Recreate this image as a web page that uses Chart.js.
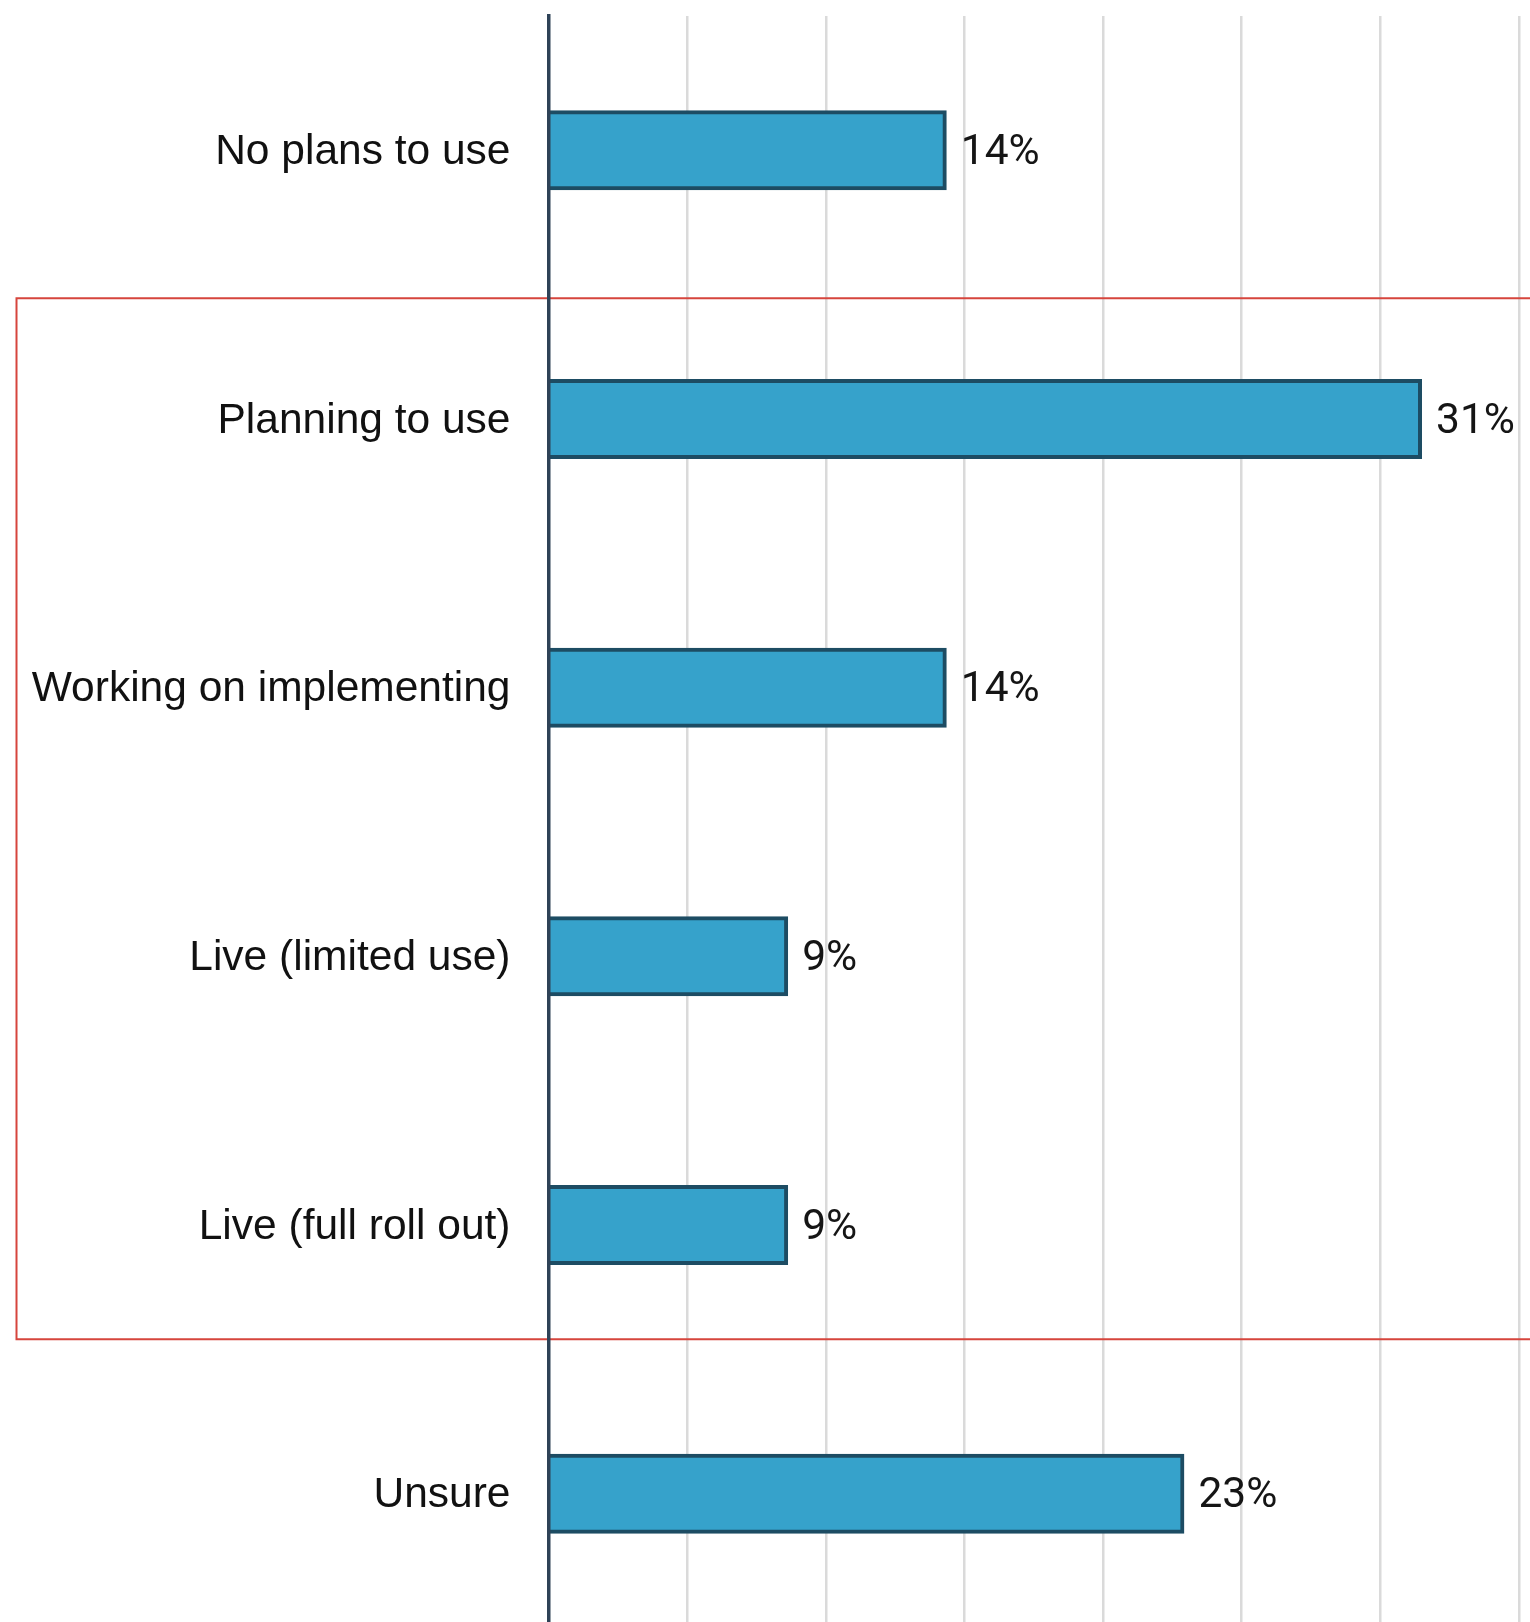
<!DOCTYPE html>
<html>
<head>
<meta charset="utf-8">
<script src="https://cdn.jsdelivr.net/npm/chart.js@4.4.1/dist/chart.umd.min.js"></script>
<style>
  html, body { margin: 0; padding: 0; background: #ffffff; overflow: hidden; }
  #wrap { position: absolute; left: 0; top: 0; width: 1530px; height: 1628px; }
</style>
</head>
<body>
<div id="wrap"><canvas id="chart"></canvas></div>
<script>
// Adoption stage of respondents (share of 35 answers, in percent)
const categories = [
  'No plans to use',
  'Planning to use',
  'Working on implementing',
  'Live (limited use)',
  'Live (full roll out)',
  'Unsure'
];
const shares = [14.29, 31.43, 14.29, 8.57, 8.57, 22.86];
const axisMax = 35;
const gridStep = 5;
// Rows grouped by the red frame (fractional category positions of its top and bottom edges)
const frameSpan = [0.551, 4.425];

const labelFont = { family: "'Liberation Sans', Arial, sans-serif", size: 42.5 };
const valueFont = "42.5px Roboto, 'Liberation Sans', sans-serif";

const frameBox = {
  id: 'frameBox',
  beforeDatasetsDraw(chart) {
    const { ctx, scales: { y } } = chart;
    const top = y.getPixelForValue(frameSpan[0]);
    const bottom = y.getPixelForValue(frameSpan[1]);
    ctx.save();
    ctx.strokeStyle = '#d6453d';
    ctx.lineWidth = 2;
    ctx.beginPath();
    ctx.moveTo(chart.width + 20, top);
    ctx.lineTo(16.5, top);
    ctx.lineTo(16.5, bottom);
    ctx.lineTo(chart.width + 20, bottom);
    ctx.stroke();
    ctx.restore();
  }
};

const valueLabels = {
  id: 'valueLabels',
  afterDatasetsDraw(chart) {
    const { ctx } = chart;
    const meta = chart.getDatasetMeta(0);
    ctx.save();
    ctx.font = valueFont;
    ctx.fillStyle = '#151515';
    ctx.textAlign = 'left';
    ctx.textBaseline = 'middle';
    meta.data.forEach((bar, i) => {
      const v = chart.data.datasets[0].data[i];
      ctx.fillText(Math.round(v) + '%', bar.x + 16, bar.y + 3);
    });
    ctx.restore();
  }
};

new Chart(document.getElementById('chart'), {
  type: 'bar',
  data: {
    labels: categories,
    datasets: [{
      data: shares,
      backgroundColor: '#36a2cb',
      borderColor: '#1d4c63',
      borderWidth: 4,
      borderSkipped: 'start',
      inflateAmount: 2,
      categoryPercentage: 1,
      barPercentage: 0.283
    }]
  },
  options: {
    indexAxis: 'y',
    responsive: true,
    maintainAspectRatio: false,
    animation: false,
    layout: { padding: { top: 16, right: 11, bottom: 0, left: 0 } },
    plugins: {
      legend: { display: false },
      tooltip: { enabled: false }
    },
    scales: {
      x: {
        min: 0,
        max: axisMax,
        ticks: { display: false, stepSize: gridStep },
        grid: { color: '#dadada', lineWidth: 2.5, drawTicks: false, tickLength: 0 },
        border: { display: false },
        afterFit(scale) { scale.height = 0; scale.paddingLeft = 0; scale.paddingRight = 0; }
      },
      y: {
        ticks: { font: labelFont, color: '#111111', padding: 38, labelOffset: 2 },
        grid: { display: false, drawTicks: false, tickLength: 0 },
        border: { display: true, color: '#2e4257', width: 3.5, z: 1 },
        afterFit(scale) {
          scale.width = 548.5;
          scale.paddingTop = 0;
          scale.paddingBottom = 0;
        }
      }
    }
  },
  plugins: [frameBox, valueLabels]
});
</script>
</body>
</html>
